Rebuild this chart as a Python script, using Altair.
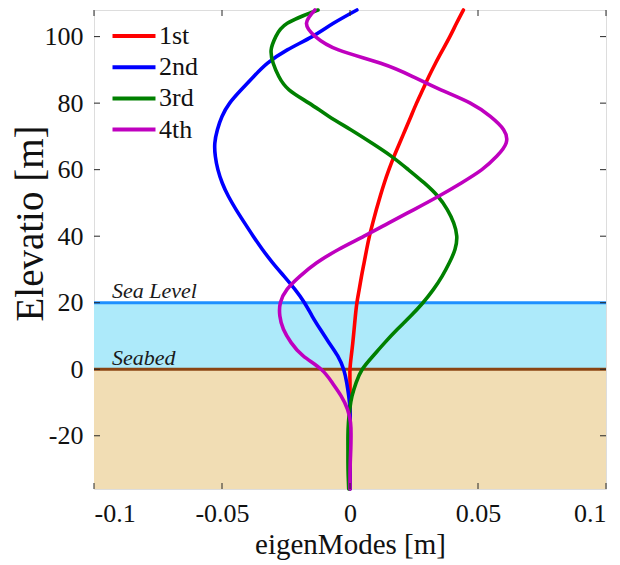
import altair as alt
import pandas as pd

# ---------------- data ----------------
mode_names = ["1st", "2nd", "3rd", "4th"]
mode_colors = ["#FF0000", "#0000FF", "#008000", "#BF00BF"]

elevation = [-36, -32, -28, -24, -20, -16, -12, -8, -4, 0, 4, 8, 12, 16, 20, 24,
             28, 32, 36, 40, 44, 48, 52, 56, 60, 64, 68, 72, 76, 80, 84, 88, 92,
             96, 100, 104, 108]

mode_1 = [0, 0, 0, 0, 0, 0, 0, 0, 0, 0, 0.0005, 0.0011, 0.0016, 0.0021, 0.0027,
          0.0036, 0.0045, 0.0055, 0.0065, 0.0076, 0.0089, 0.0103, 0.0118, 0.0134,
          0.0152, 0.0172, 0.0194, 0.0216, 0.0238, 0.0260, 0.0284, 0.0308, 0.0334,
          0.0362, 0.0390, 0.0416, 0.0443]

mode_2 = [0, 0, 0, 0, 0, 0, 0, -0.0005, -0.0013, -0.0025, -0.0048, -0.0082,
          -0.0116, -0.0148, -0.0178, -0.0215, -0.0258, -0.0302, -0.0342, -0.0378,
          -0.0412, -0.0445, -0.0475, -0.0499, -0.0516, -0.0526, -0.0528, -0.0518,
          -0.0500, -0.0470, -0.0425, -0.0376, -0.0322, -0.0245, -0.0148, -0.0065,
          0.0027]

mode_3 = [-0.0005, -0.0007, -0.0008, -0.0008, -0.0008, -0.0006, -0.0001, 0.0008,
          0.0024, 0.0048, 0.0090, 0.0136, 0.0185, 0.0237, 0.0285, 0.0326, 0.0360,
          0.0388, 0.0410, 0.0417, 0.0405, 0.0380, 0.0343, 0.0290, 0.0228, 0.0162,
          0.0085, 0.0003, -0.0082, -0.0160, -0.0238, -0.0278, -0.0300, -0.0308,
          -0.0290, -0.0245, -0.0125]

mode_4 = [0, 0, 0.0001, 0.0003, 0.0004, 0.0002, -0.0010, -0.0035, -0.0070,
          -0.0113, -0.0183, -0.0230, -0.0260, -0.0274, -0.0272, -0.0246, -0.0195,
          -0.0130, -0.0045, 0.0055, 0.0152, 0.0250, 0.0346, 0.0435, 0.0515, 0.0573,
          0.0610, 0.0600, 0.0548, 0.0470, 0.0355, 0.0245, 0.0120, -0.0045, -0.0135,
          -0.0170, -0.0137]

x_domain = [-0.1, 0.1]
y_domain = [-36, 108]
x_ticks = [-0.1, -0.05, 0, 0.05, 0.1]
y_ticks = [-20, 0, 20, 40, 60, 80, 100]

seabed_level = 0
sea_level = 20
soil_bottom = -36
label_x = -0.093
label_names = ["Sea Level", "Seabed"]
label_elev = [21.5, 1.3]

# ---------------- build tables ----------------
frames = []
for name, m in zip(mode_names, [mode_1, mode_2, mode_3, mode_4]):
    frames.append(pd.DataFrame({"mode": name, "elev": elevation, "disp": m}))
df_modes = pd.concat(frames, ignore_index=True)

W, H = 512, 479
FONT = "Liberation Serif"
FRAME = "#262626"
XT = "eigenModes [m]"
YT = "Elevatio [m]"

xs = alt.Scale(domain=x_domain, nice=False, zero=False)
ys = alt.Scale(domain=y_domain, nice=False, zero=False)

xax = alt.Axis(values=x_ticks, labelExpr="datum.value + ''",
               domain=False, ticks=False, grid=False,
               labelFont=FONT, labelFontSize=26, labelColor="#111",
               labelPadding=11, titleFont=FONT, titleFontSize=29,
               titleFontWeight="normal", titleColor="#111", titlePadding=4)
yax = alt.Axis(values=y_ticks, labelExpr="datum.value + ''",
               domain=False, ticks=False, grid=False,
               labelFont=FONT, labelFontSize=26, labelColor="#111",
               labelPadding=11, titleFont=FONT, titleFontSize=39,
               titleFontWeight="normal", titleColor="#111",
               titleAngle=270, titleX=-64, titleY=213,
               titleAlign="center", titleBaseline="middle")


def X(f):
    return alt.X(f, scale=xs, axis=xax, title=XT)


def Y(f):
    return alt.Y(f, scale=ys, axis=yax, title=YT)


soil = alt.Chart(pd.DataFrame({"x0": [x_domain[0]], "x1": [x_domain[1]],
                               "y0": [soil_bottom], "y1": [seabed_level]})).mark_rect(
    fill="#F1DDB4").encode(x=X("x0:Q"), x2="x1:Q", y=Y("y0:Q"), y2="y1:Q")

sea = alt.Chart(pd.DataFrame({"x0": [x_domain[0]], "x1": [x_domain[1]],
                              "y0": [seabed_level], "y1": [sea_level]})).mark_rect(
    fill="#ADEAFA").encode(x=X("x0:Q"), x2="x1:Q", y=Y("y0:Q"), y2="y1:Q")

sea_line = alt.Chart(pd.DataFrame({"y": [sea_level]})).mark_rule(
    color="#1E90FF", strokeWidth=3).encode(y=Y("y:Q"))
bed_line = alt.Chart(pd.DataFrame({"y": [seabed_level]})).mark_rule(
    color="#8B4513", strokeWidth=3).encode(y=Y("y:Q"))

labels = alt.Chart(pd.DataFrame({"x": [label_x] * 2, "y": label_elev,
                                 "t": label_names})).mark_text(
    align="left", baseline="alphabetic", font=FONT, fontStyle="italic",
    fontSize=22, color="#1a1a1a").encode(x=X("x:Q"), y=Y("y:Q"), text="t:N")

lines = alt.Chart(df_modes).mark_line(
    strokeWidth=3.6, interpolate="natural", strokeCap="round").encode(
    x=X("disp:Q"),
    y=Y("elev:Q"),
    color=alt.Color("mode:N", scale=alt.Scale(domain=mode_names, range=mode_colors),
                    legend=alt.Legend(title=None, orient="none", legendX=27,
                                      legendY=13, symbolType="M-2,0H2",
                                      symbolSize=462, symbolStrokeWidth=4,
                                      symbolFillColor="transparent",
                                      labelFont=FONT, labelFontSize=26,
                                      labelColor="#111", labelOffset=12,
                                      rowPadding=5.2, padding=0)),
    order=alt.Order("elev:Q"))

xt = pd.DataFrame({"v": x_ticks})
yt = pd.DataFrame({"v": y_ticks})
tick_style = dict(color=FRAME, strokeWidth=1)
tb = alt.Chart(xt).mark_rule(**tick_style).encode(
    x=X("v:Q"), y=alt.value(H), y2=alt.value(H - 6))
tt = alt.Chart(xt).mark_rule(**tick_style).encode(
    x=X("v:Q"), y=alt.value(0), y2=alt.value(6))
tl = alt.Chart(yt).mark_rule(**tick_style).encode(
    y=Y("v:Q"), x=alt.value(0), x2=alt.value(6))
tr = alt.Chart(yt).mark_rule(**tick_style).encode(
    y=Y("v:Q"), x=alt.value(W), x2=alt.value(W - 6))

chart = alt.layer(soil, sea, sea_line, bed_line, labels, lines, tb, tt, tl, tr).properties(
    width=W, height=H,
    autosize=alt.AutoSizeParams(type="none"),
    padding={"left": 86, "top": 2, "right": 6, "bottom": 76},
).configure_view(stroke=FRAME, strokeWidth=1.2).configure(
    background="white", font=FONT
).configure_axis(labelFont=FONT, titleFont=FONT).configure_legend(labelFont=FONT)

chart.save("out.html", embed_options={"renderer": "svg", "actions": False})
